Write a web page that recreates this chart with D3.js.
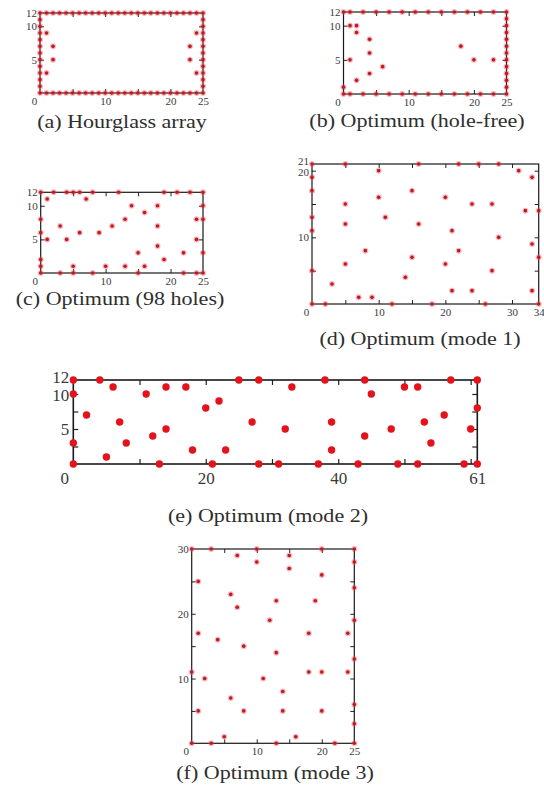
<!DOCTYPE html>
<html>
<head>
<meta charset="utf-8">
<script src="https://cdn.jsdelivr.net/npm/d3@7"></script>
<style>
  body { margin: 0; background: #fff; }
</style>
</head>
<body>
<div id="plot"></div>
<script>
// Sensor positions, as [column, row]
var hourglassPts = [
  [0,12],[1,12],[2,12],[3,12],[4,12],[5,12],[6,12],[7,12],[8,12],[9,12],[10,12],[11,12],[12,12],
  [13,12],[14,12],[15,12],[16,12],[17,12],[18,12],[19,12],[20,12],[21,12],[22,12],[23,12],[24,12],[25,12],
  [0,0],[1,0],[2,0],[3,0],[4,0],[5,0],[6,0],[7,0],[8,0],[9,0],[10,0],[11,0],[12,0],
  [13,0],[14,0],[15,0],[16,0],[17,0],[18,0],[19,0],[20,0],[21,0],[22,0],[23,0],[24,0],[25,0],
  [0,1],[0,2],[0,3],[0,4],[0,5],[0,6],[0,7],[0,8],[0,9],[0,10],[0,11],
  [25,1],[25,2],[25,3],[25,4],[25,5],[25,6],[25,7],[25,8],[25,9],[25,10],[25,11],
  [1,9],[2,7],[2,5],[1,3],[24,9],[23,7],[23,5],[24,3]
];

var holeFreePts = [
  [0,12],[1,12],[3,12],[5,12],[7,12],[9,12],[11,12],[13,12],[15,12],[17,12],[19,12],[21,12],[23,12],[25,12],
  [0,0],[1,0],[3,0],[5,0],[7,0],[9,0],[11,0],[13,0],[15,0],[17,0],[19,0],[21,0],[23,0],[25,0],
  [0,1],
  [25,1],[25,2],[25,3],[25,4],[25,5],[25,6],[25,7],[25,8],[25,9],[25,10],[25,11],
  [1,10],[2,10],[2,9],[4,8],[4,6],[1,5],[6,4],[4,3],[2,2],[18,7],[20,5],[23,5]
];

var holes98Pts = [
  [0,12],[2,12],[4,12],[5,12],[6,12],[8,12],[12,12],[19,12],[21,12],[23,12],[25,12],
  [0,0],[3,0],[5,0],[8,0],[15,0],[22,0],[24,0],[25,0],
  [0,1],[0,2],[0,6],[0,8],
  [25,3],[25,8],[25,10],
  [1,11],[7,11],[3,7],[1,5],[4,5],[6,6],[9,6],[11,7],[13,8],[14,10],[16,9],[18,10],
  [18,7],[18,4],[15,3],[19,2],[22,3],[5,1],[10,1],[13,1],[16,1],[24,8],[24,5]
];

var mode1Pts = [
  [0,21],[5,21],[16,21],[22,21],[25,21],[28,21],
  [0,19],[0,17],[0,13],[0,11],[0,5],
  [0,0],[2,0],[12,0],[18,0],[26,0],[34,0],
  [34,14],[34,7],
  [10,20],[31,20],[33,19],[15,17],[5,15],[10,16],[20,16],[24,15],[27,15],[32,14],
  [5,12],[11,13],[16,12],[21,11],[28,10],[33,9],[8,8],[22,8],[15,7],[5,6],[20,6],
  [27,5],[3,3],[14,4],[7,1],[9,1],[21,2],[24,2],[33,2]
];

var mode2Pts = [
  [0,12],[4,12],[0,10],[6,11],[2,7],[7,6],[0,3],[8,3],[5,1],[0,0],[11,10],[14,11],
  [17,11],[12,4],[14,5],[13,0],[18,2],[20,8],[22,9],[23,2],[21,0],[25,12],[27,6],
  [28,12],[28,0],[33,11],[38,12],[44,12],[45,10],[50,11],[52,11],[57,12],[61,12],
  [61,8],[56,7],[53,6],[60,5],[54,3],[48,5],[44,4],[39,6],[39,2],[32,5],[31,0],
  [37,0],[43,0],[49,0],[52,0],[59,0],[61,0]
];

var mode3Pts = [
  [0,30],[3,30],[10,30],[20,30],[25,30],
  [0,0],[3,0],[13,0],[22,0],[25,0],
  [0,11],
  [25,28],[25,24],[25,19],[25,13],[25,6],[25,3],
  [7,29],[15,29],[10,28],[15,27],[20,26],[1,25],[6,23],[13,22],[19,22],[7,21],
  [12,19],[1,17],[18,17],[24,17],[4,16],[8,15],[13,14],[18,11],[20,11],[24,11],
  [2,10],[11,10],[14,8],[6,7],[1,5],[8,5],[14,5],[20,5],[5,1],[16,1]
];

var captions = ["(a) Hourglass array", "(b) Optimum (hole-free)", "(c) Optimum (98 holes)",
                "(d) Optimum (mode 1)", "(e) Optimum (mode 2)", "(f) Optimum (mode 3)"];
var apertures = [[25,12],[25,12],[25,12],[34,21],[61,12],[25,30]];
var xTickLabels = [[10,20,25],[10,20,25],[10,20,25],[10,20,30,34],[20,40,61],[10,20,25]];
var yTickLabels = [[5,10,12],[5,10,12],[5,10,12],[10,20,21],[5,10,12],[10,20,30]];
var xTickMarks = [[5,10,15,20],[5,10,15,20],[5,10,15,20],[5,10,15,20,25,30],[10,20,30,40,50,60],[5,10,15,20]];
var yTickMarks = [[5,10],[5,10],[5,10],[5,10,15,20],[2.5,5,7.5,10],[5,10,15,20,25]];
var pointSets = [hourglassPts, holeFreePts, holes98Pts, mode1Pts, mode2Pts, mode3Pts];

// Where each frame sits on the page (left, right, bottom, top) and its caption anchor
var frames = [
  {x0: 40,    x1: 203,   y0: 93,    y1: 13,    cx: 122, cy: 128},
  {x0: 343.5, x1: 506.5, y0: 94,    y1: 12,    cx: 417, cy: 127},
  {x0: 40.7,  x1: 203,   y0: 273,   y1: 192.3, cx: 120, cy: 305},
  {x0: 312,   x1: 538.7, y0: 304,   y1: 164,   cx: 420, cy: 345},
  {x0: 73.3,  x1: 477.3, y0: 464,   y1: 380,   cx: 268, cy: 522},
  {x0: 191.7, x1: 354.3, y0: 743.3, y1: 549,   cx: 275, cy: 779}
];

var serif = '"Liberation Serif", "Times New Roman", serif';

var svg = d3.select("#plot")
  .append("svg")
    .attr("width", 544)
    .attr("height", 791)
    .style("background", "#fff");

pointSets.forEach(function(pts, i) {
  var f = frames[i];
  var big = i === 4;
  var tick = big ? 5 : 4;

  var x = d3.scaleLinear().domain([0, apertures[i][0]]).range([f.x0, f.x1]);
  var y = d3.scaleLinear().domain([0, apertures[i][1]]).range([f.y0, f.y1]);

  var g = svg.append("g");

  // inward ticks on all four sides
  g.append("g").attr("transform", `translate(0,${f.y0})`)
    .call(d3.axisBottom(x).tickValues(xTickMarks[i]).tickSize(-tick).tickFormat(""));
  g.append("g").attr("transform", `translate(0,${f.y1})`)
    .call(d3.axisTop(x).tickValues(xTickMarks[i]).tickSize(-tick).tickFormat(""));
  g.append("g").attr("transform", `translate(${f.x0},0)`)
    .call(d3.axisLeft(y).tickValues(yTickMarks[i]).tickSize(-tick).tickFormat(""));
  g.append("g").attr("transform", `translate(${f.x1},0)`)
    .call(d3.axisRight(y).tickValues(yTickMarks[i]).tickSize(-tick).tickFormat(""));
  g.selectAll(".domain").remove();
  g.selectAll(".tick line").attr("stroke", "#222").attr("stroke-width", big ? 1.2 : 1);

  // frame
  g.append("rect")
    .attr("x", f.x0)
    .attr("y", f.y1)
    .attr("width", f.x1 - f.x0)
    .attr("height", f.y0 - f.y1)
    .attr("fill", "none")
    .attr("stroke", "#1a1a1a")
    .attr("stroke-width", big ? 1.6 : 1.2);

  // tick labels, the shared "0" sits just left of the corner
  var fs = big ? 17 : 11;
  var xl = g.append("g").attr("transform", `translate(0,${f.y0})`)
    .call(d3.axisBottom(x).tickValues([0].concat(xTickLabels[i])).tickSize(0).tickPadding(big ? 8 : 4));
  xl.attr("font-family", serif).attr("font-size", fs);
  xl.select(".domain").remove();
  xl.selectAll("text")
    .attr("fill", "#3a3a3a")
    .attr("dx", d => d === 0 ? (big ? -9 : -6) : 0);

  // the top label crowds the one below it, so push the pair apart
  var yl = g.append("g").attr("transform", `translate(${f.x0},0)`)
    .call(d3.axisLeft(y).tickValues(yTickLabels[i]).tickSize(0).tickPadding(big ? 4 : 3));
  yl.attr("font-family", serif).attr("font-size", fs);
  yl.select(".domain").remove();
  var labs = yTickLabels[i];
  var top = labs[labs.length - 1], next = labs[labs.length - 2];
  var crowd = Math.abs(y(next) - y(top)) < fs;
  yl.selectAll(".tick text")
    .attr("fill", "#3a3a3a")
    .attr("transform", function(d) {
      if (!crowd) return null;
      if (d === top) return "translate(0,-3)";
      if (d === next) return "translate(0,1.5)";
      return null;
    });

  // sensors
  if (big) {
    g.selectAll(".dot")
      .data(pts)
      .enter()
      .append("circle")
      .attr("class", "dot")
      .attr("cx", d => x(d[0]))
      .attr("cy", d => y(d[1]))
      .attr("r", 3.7)
      .attr("fill", "#e3121b");
  } else {
    g.selectAll(".halo")
      .data(pts)
      .enter()
      .append("circle")
      .attr("class", "halo")
      .attr("cx", d => x(d[0]))
      .attr("cy", d => y(d[1]))
      .attr("r", 3)
      .attr("fill", "#f05058")
      .attr("opacity", 0.4);
    g.selectAll(".dot")
      .data(pts)
      .enter()
      .append("circle")
      .attr("class", "dot")
      .attr("cx", d => x(d[0]))
      .attr("cy", d => y(d[1]))
      .attr("r", 1.8)
      .attr("fill", "#b81c25");
  }

  // caption
  svg.append("text")
    .attr("transform", `translate(${f.cx},${f.cy}) scale(1.16,1)`)
    .attr("text-anchor", "middle")
    .attr("font-family", serif)
    .attr("font-size", 19)
    .attr("fill", "#2e2e2e")
    .text(captions[i]);
});
</script>
</body>
</html>
